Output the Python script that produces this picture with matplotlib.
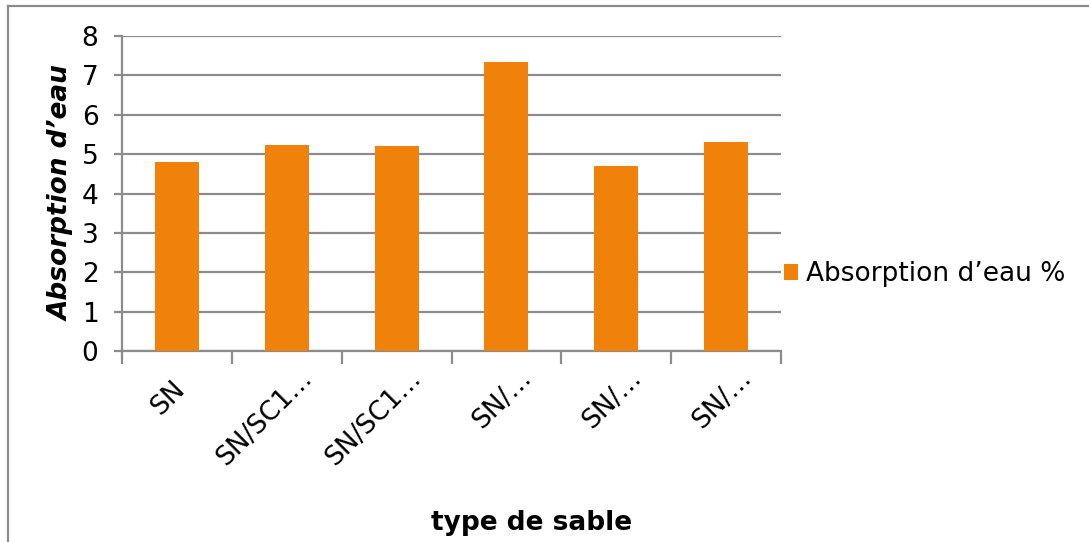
import matplotlib
matplotlib.use("Agg")
import matplotlib.pyplot as plt
from matplotlib.lines import Line2D
import matplotlib.transforms as mtransforms

# Sand types (labels shown truncated on the axis)
categories = ["SN", "SN/SC1…", "SN/SC1…", "SN/…", "SN/…", "SN/…"]
absorption = [4.80, 5.23, 5.20, 7.33, 4.69, 5.32]
y_ticks = [0, 1, 2, 3, 4, 5, 6, 7, 8]

bar_color = "#F0810A"
grid_color = "#8C8C8C"
fs = 19

plt.rcParams["font.family"] = ["DejaVu Sans"]

fig = plt.figure(figsize=(10.89, 5.42), dpi=100)
ax = fig.add_axes([122 / 1089, 1 - 351 / 542, (781 - 122) / 1089, (351 - 36) / 542])

x = list(range(len(categories)))
bars = ax.bar(x, absorption, width=0.4, color=bar_color, zorder=3,
              label="Absorption d’eau %")

ax.set_xlim(-0.5, len(categories) - 0.5)
ax.set_ylim(0, 8)
ax.set_yticks(y_ticks)
ax.yaxis.grid(True, color=grid_color, linewidth=1.6, zorder=0)

for s in ["top", "right"]:
    ax.spines[s].set_visible(False)
for s in ["left", "bottom"]:
    ax.spines[s].set_color(grid_color)
    ax.spines[s].set_linewidth(1.6)

# Category tick marks sit between categories
ax.set_xticks([i - 0.5 for i in range(len(categories) + 1)], minor=True)
ax.set_xticks(x)
ax.tick_params(axis="x", which="major", length=0, pad=10)
ax.tick_params(axis="x", which="minor", length=9, width=1.6, color=grid_color)
ax.tick_params(axis="y", length=6, width=1.6, color=grid_color, labelsize=fs, pad=11)

ax.set_xticklabels(categories, rotation=45, ha="right", va="center",
                   rotation_mode="anchor", fontsize=fs)
for i, lbl in enumerate(ax.get_xticklabels()):
    dx, dy = (0.21, -0.09)
    if len(categories[i]) <= 2:
        # short labels sit centred in the rotated label slot
        dx, dy = dx - 0.17, dy - 0.11
    lbl.set_transform(lbl.get_transform()
                      + mtransforms.ScaledTranslation(dx, dy, fig.dpi_scale_trans))

ax.set_ylabel("Absorption d’eau", fontsize=fs, fontweight="bold", style="italic")
ax.yaxis.set_label_coords(-0.072, 0.5)
fig.text(532 / 1089, 1 - 523 / 542, "type de sable", fontsize=fs, fontweight="bold",
         ha="center", va="center")

# Legend to the right of the plot area
fig.legend(handles=[bars], labels=["Absorption d’eau %"], loc="center left",
           bbox_to_anchor=(760 / 1089, 1 - 274 / 542), frameon=False, fontsize=fs,
           handlelength=0.55, handleheight=0.55, handletextpad=0.3)

# Chart-area border (top and left edges)
fig.add_artist(Line2D([8 / 1089, 1.0], [1 - 6 / 542, 1 - 6 / 542],
                      color=grid_color, linewidth=1.6, transform=fig.transFigure))
fig.add_artist(Line2D([8 / 1089, 8 / 1089], [1 - 6 / 542, 0.0],
                      color=grid_color, linewidth=1.6, transform=fig.transFigure))

fig.savefig("out.png", dpi=100)
